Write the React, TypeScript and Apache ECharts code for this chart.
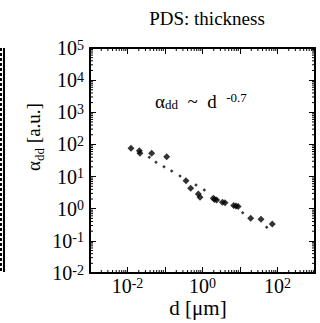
import React, { useEffect, useRef } from "react";
import * as echarts from "echarts";

const titleText = "PDS: thickness";
const xName = "d [μm]";
const xMin = 0.001;
const xMax = 1000;
const yMin = 0.01;
const yMax = 100000;

// large diamonds
const bigD = [0.0124, 0.0207, 0.0215, 0.0442, 0.111, 0.363, 0.484, 0.773, 0.857, 1.94, 2.1, 2.39, 3.4, 3.98, 6.8, 7.82, 8.9, 19.3, 36.3, 72.6];
const bigA = [75.9, 63.8, 53.0, 53.0, 41.5, 7.43, 4.31, 2.86, 2.26, 2.11, 1.95, 1.87, 1.6, 1.54, 1.25, 1.21, 1.17, 0.502, 0.468, 0.334];
// small dots
const smallD = [0.0381, 0.0575, 0.094, 0.151, 0.251, 0.671, 1.117, 11.8, 51.5];
const smallA = [39.8, 27.8, 20.3, 14.9, 10.4, 5.46, 3.82, 0.752, 0.264];

const xDecades = [-3, -2, -1, 0, 1, 2];
const yDecades = [-2, -1, 0, 1, 2, 3, 4];
const minorMult = [2, 3, 4, 5, 6, 7, 8, 9];

const FONT = "Liberation Serif";

export default function App() {
  const ref = useRef<HTMLDivElement>(null);
  useEffect(() => {
    const chart = echarts.init(ref.current!, undefined, { renderer: "svg" });
    const xMinor: number[][] = [];
    xDecades.forEach((k) => minorMult.forEach((m) => xMinor.push([m * Math.pow(10, k), 1])));
    const yMinor: number[][] = [];
    yDecades.forEach((k) => minorMult.forEach((m) => yMinor.push([1, m * Math.pow(10, k)])));

    const labelRich = {
      b: { fontFamily: FONT, fontSize: 20, color: "#000", verticalAlign: "bottom", lineHeight: 20 },
      s: { fontFamily: FONT, fontSize: 14, color: "#000", verticalAlign: "top", lineHeight: 20 },
    };
    const fmt = (onlyEven: boolean) => (v: number) => {
      const e = Math.round(Math.log10(v));
      if (onlyEven && e % 2 !== 0) return "";
      return `{b|10}{s|${e}}`;
    };
    const axisLine = { show: true, lineStyle: { color: "#000", width: 2 } };
    const axisTick = { show: true, inside: true, length: 6, lineStyle: { color: "#000", width: 1 } };

    chart.setOption({
      animation: false,
      backgroundColor: "#fff",
      textStyle: { fontFamily: FONT },
      grid: { left: 90, top: 48, width: 225, height: 225 },
      xAxis: [
        {
          type: "log", logBase: 10, min: xMin, max: xMax, splitNumber: 6, position: "bottom",
          axisLine, axisTick, splitLine: { show: false },
          axisLabel: { fontFamily: FONT, formatter: fmt(true), rich: labelRich, margin: 3, showMinLabel: true, showMaxLabel: true },
        },
        {
          type: "log", logBase: 10, min: xMin, max: xMax, splitNumber: 6, position: "top",
          axisLine, axisTick, splitLine: { show: false }, axisLabel: { show: false },
        },
      ],
      yAxis: [
        {
          type: "log", logBase: 10, min: yMin, max: yMax, splitNumber: 7, position: "left",
          axisLine, axisTick, splitLine: { show: false },
          axisLabel: { fontFamily: FONT, formatter: fmt(false), rich: labelRich, margin: 6 },
        },
        {
          type: "log", logBase: 10, min: yMin, max: yMax, splitNumber: 7, position: "right",
          axisLine, axisTick, splitLine: { show: false }, axisLabel: { show: false },
        },
      ],
      series: [
        {
          type: "scatter", symbol: "diamond", symbolSize: 7,
          itemStyle: { color: "#000" },
          data: bigD.map((d, i) => [d, bigA[i]]),
        },
        {
          type: "scatter", symbol: "diamond", symbolSize: 3.5,
          itemStyle: { color: "#000" },
          data: smallD.map((d, i) => [d, smallA[i]]),
        },
        {
          type: "custom", clip: false, silent: true,
          data: xMinor,
          renderItem: (params: any, api: any) => {
            const p = api.coord([api.value(0), api.value(1)]);
            const cs = params.coordSys;
            const st = { stroke: "#000", lineWidth: 1 };
            return {
              type: "group",
              children: [
                { type: "line", shape: { x1: p[0], y1: cs.y + cs.height, x2: p[0], y2: cs.y + cs.height - 3 }, style: st },
                { type: "line", shape: { x1: p[0], y1: cs.y, x2: p[0], y2: cs.y + 3 }, style: st },
              ],
            };
          },
        },
        {
          type: "custom", clip: false, silent: true,
          data: yMinor,
          renderItem: (params: any, api: any) => {
            const p = api.coord([api.value(0), api.value(1)]);
            const cs = params.coordSys;
            const st = { stroke: "#000", lineWidth: 1 };
            return {
              type: "group",
              children: [
                { type: "line", shape: { x1: cs.x, y1: p[1], x2: cs.x + 3, y2: p[1] }, style: st },
                { type: "line", shape: { x1: cs.x + cs.width, y1: p[1], x2: cs.x + cs.width - 3, y2: p[1] }, style: st },
              ],
            };
          },
        },
      ],
      graphic: [
        {
          type: "text", x: 207, y: 18,
          style: { text: titleText, font: `19px "${FONT}"`, fill: "#000", align: "center", verticalAlign: "middle" },
        },
        {
          type: "text", x: 198, y: 308,
          style: { text: xName, font: `21px "${FONT}"`, fill: "#000", align: "center", verticalAlign: "middle" },
        },
        {
          type: "text", x: 33, y: 137, rotation: Math.PI / 2,
          style: {
            text: "{a|α}{s|dd} {a|[a.u.]}",
            font: `19px "${FONT}"`,
            align: "center", verticalAlign: "middle",
            rich: {
              a: { fontFamily: FONT, fontSize: 19, fill: "#000", verticalAlign: "bottom", lineHeight: 20 },
              s: { fontFamily: FONT, fontSize: 13, fill: "#000", verticalAlign: "bottom", lineHeight: 20, padding: [0, 0, -3, 0] },
            },
          },
        },
        {
          type: "text", x: 155, y: 101,
          style: {
            text: "{a|α}{s|dd}{a|  ~  d  }{e|-0.7}",
            font: `19px "${FONT}"`,
            align: "left", verticalAlign: "middle",
            rich: {
              a: { fontFamily: FONT, fontSize: 19, fill: "#000", verticalAlign: "bottom", lineHeight: 20 },
              s: { fontFamily: FONT, fontSize: 13, fill: "#000", verticalAlign: "bottom", lineHeight: 20 },
              e: { fontFamily: FONT, fontSize: 13, fill: "#000", verticalAlign: "top", lineHeight: 20 },
            },
          },
        },
        {
          type: "line", shape: { x1: 4, y1: 48, x2: 4, y2: 272 },
          style: { stroke: "#000", lineWidth: 2 },
        },
        {
          type: "line", shape: { x1: 1, y1: 48, x2: 1, y2: 272 },
          style: { stroke: "#000", lineWidth: 2, lineDash: [3, 2] },
        },
      ],
    });
    return () => chart.dispose();
  }, []);
  return (
    <div
      ref={ref}
      style={{ position: "absolute", left: 0, top: 0, width: 320, height: 323, background: "#fff" }}
    />
  );
}
